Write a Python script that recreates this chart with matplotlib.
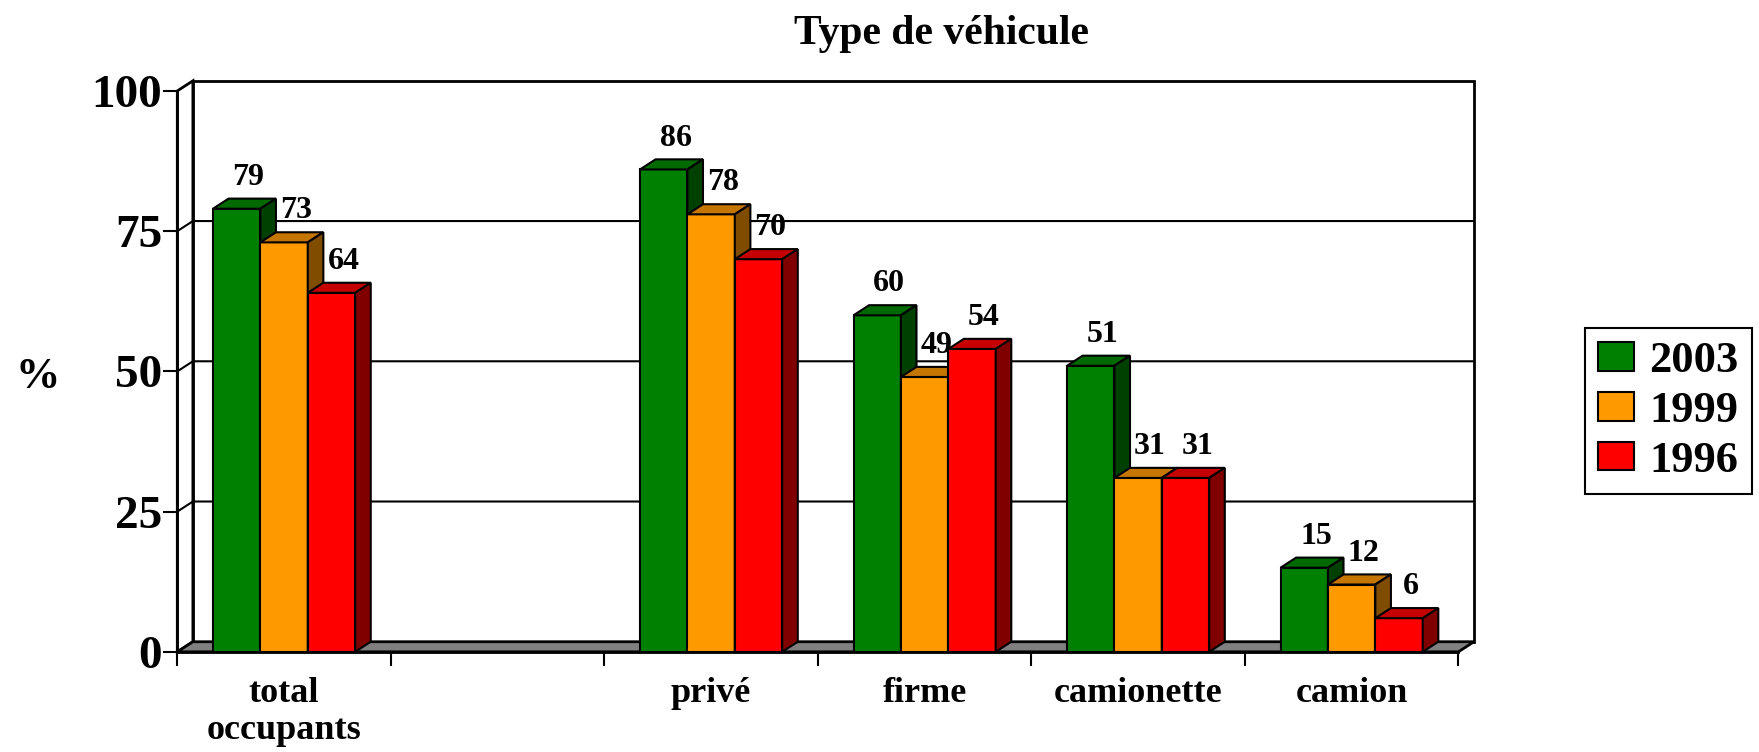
import numpy as np
import matplotlib.pyplot as plt
from matplotlib.patches import Polygon, Patch

plt.rcParams['font.family'] = ['Liberation Serif', 'DejaVu Serif']
plt.rcParams['font.weight'] = 'bold'

categories = ["total\noccupants", "", "privé", "firme", "camionette", "camion"]
series = ["2003", "1999", "1996"]
v2003 = [79, np.nan, 86, 60, 51, 15]
v1999 = [73, np.nan, 78, 49, 31, 12]
v1996 = [64, np.nan, 70, 54, 31, 6]
values = [v2003, v1999, v1996]

front = ["#008000", "#FF9900", "#FF0000"]
top = ["#006A00", "#C47600", "#C40000"]
side = ["#004000", "#7F4C00", "#800000"]

n = len(categories)
dx = 0.073   # depth offset in category units
dy = 1.8     # depth offset in value units
w = 0.222    # bar width

fig = plt.figure(figsize=(17.59, 7.52), dpi=100)
ax = fig.add_axes([0.1008, 0.1332, 0.7283, 0.7459])
ax.set_xlim(0, n)
ax.set_ylim(0, 100)

# walls and floor
ax.add_patch(Polygon([(dx, dy), (n + dx, dy), (n + dx, 100 + dy), (dx, 100 + dy)],
                     closed=True, fc="white", ec="black", lw=2, zorder=0.5, clip_on=False))
ax.add_patch(Polygon([(0, 0), (dx, dy), (dx, 100 + dy), (0, 100)],
                     closed=True, fc="white", ec="black", lw=2, zorder=0.6, clip_on=False))
for g in [25, 50, 75]:
    ax.plot([0, dx, n + dx], [g, g + dy, g + dy], color="black", lw=1.5,
            zorder=2, clip_on=False)
ax.add_patch(Polygon([(0, 0), (n, 0), (n + dx, dy), (dx, dy)],
                     closed=True, fc="#808080", ec="black", lw=2, zorder=2.5, clip_on=False))

# 3d bars
for i in range(n):
    for k in range(3):
        v = values[k][i]
        if np.isnan(v):
            continue
        x0 = i + 0.5 + (k - 1.5) * w
        ax.bar(x0, v, width=w, align="edge", color=front[k], edgecolor="black",
               lw=1.5, zorder=3 + i * 3 + k, clip_on=False)
        ax.add_patch(Polygon([(x0, v), (x0 + w, v), (x0 + w + dx, v + dy), (x0 + dx, v + dy)],
                             closed=True, fc=top[k], ec="black", lw=1.5,
                             zorder=3 + i * 3 + k, clip_on=False))
        ax.add_patch(Polygon([(x0 + w, 0), (x0 + w + dx, dy), (x0 + w + dx, v + dy), (x0 + w, v)],
                             closed=True, fc=side[k], ec="black", lw=1.5,
                             zorder=3 + i * 3 + k, clip_on=False))
        ax.text(x0 + w / 2 + 0.056, v + 5.6, f"{v:.0f}", ha="center", va="center",
                fontsize=23, fontweight="bold", zorder=1, clip_on=False)

# axes styling
for s in ["top", "right"]:
    ax.spines[s].set_visible(False)
ax.spines["left"].set_linewidth(2)
ax.spines["bottom"].set_linewidth(2)
ax.spines["left"].set_zorder(30)
ax.spines["bottom"].set_zorder(30)
ax.set_yticks([0, 25, 50, 75, 100])
ax.set_yticklabels(["0", "25", "50", "75", "100"])
ax.tick_params(axis="y", length=10, width=1.5, pad=1, labelsize=34)
ax.set_xticks(np.arange(n + 1))
ax.set_xticklabels([])
ax.tick_params(axis="x", which="major", length=10, width=1.5)
ax.set_xticks(np.arange(n) + 0.5, minor=True)
ax.set_xticklabels(categories, minor=True, fontsize=26, fontweight="bold",
                   linespacing=1.15)
ax.tick_params(axis="x", which="minor", length=0, pad=18)
ax.set_ylabel("%", rotation=0, fontsize=32, fontweight="bold", va="center", ha="center")
ax.yaxis.set_label_coords(-0.109, 0.49)

fig.text(942 / 1759, 1 - 34 / 752, "Type de véhicule", ha="center", va="center",
         fontsize=30, fontweight="bold")

handles = [Patch(fc=front[k], ec="black", lw=1.5) for k in range(3)]
leg = fig.legend(handles, series, loc="lower left",
                 bbox_to_anchor=(1585 / 1759, 1 - 494 / 752),
                 fontsize=32, frameon=True, fancybox=False, framealpha=1,
                 edgecolor="black", handlelength=0.8, handleheight=0.62,
                 handletextpad=0.35, labelspacing=0.22, borderpad=0.3,
                 borderaxespad=0)
leg.get_frame().set_linewidth(1.5)
for t in leg.get_texts():
    t.set_fontweight("bold")

fig.savefig("out.png", dpi=100)
